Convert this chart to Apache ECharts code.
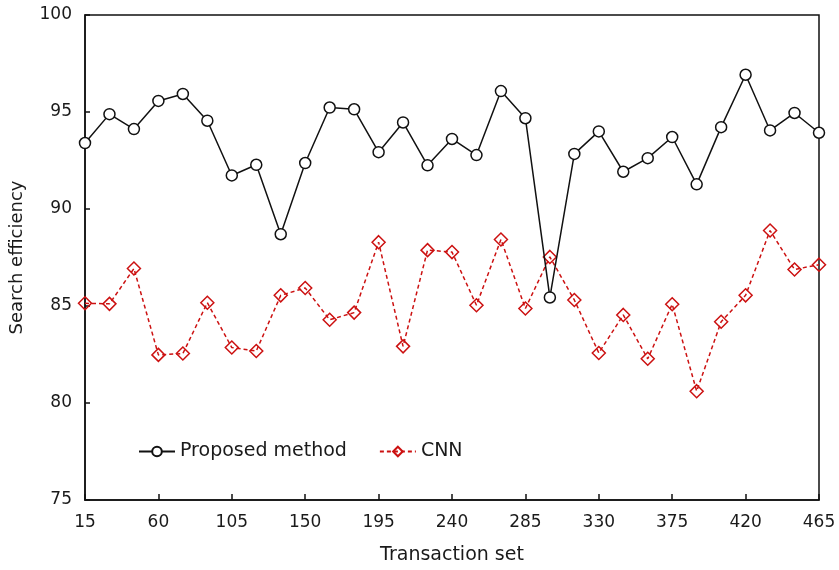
<!DOCTYPE html>
<html>
<head>
<meta charset="utf-8">
<script src="https://cdn.jsdelivr.net/npm/echarts@6/dist/echarts.min.js"></script>
<style>
  html, body { margin: 0; padding: 0; background: #fff; }
  #chart { width: 839px; height: 570px; }
</style>
</head>
<body>
<div id="chart"></div>
<script>
// Transaction sets (x categories)
const transactionSets = ['15', '30', '45', '60', '75', '90', '105', '120', '135', '150', '165',
    '180', '195', '210', '225', '240', '255', '270', '285', '300', '315', '330', '345', '360',
    '375', '390', '405', '420', '435', '450', '465'];

// Search efficiency
const proposedValues = [93.40, 94.89, 94.12, 95.57, 95.93, 94.55, 91.73, 92.28, 88.70, 92.37, 95.23,
    95.14, 92.93, 94.46, 92.25, 93.61, 92.78, 96.08, 94.68, 85.44, 92.84, 94.00, 91.92, 92.62,
    93.71, 91.27, 94.22, 96.92, 94.05, 94.95, 93.93];

const cnnValues = [85.14, 85.11, 86.93, 82.48, 82.55, 85.17, 82.86, 82.68, 85.55, 85.93, 84.29,
    84.66, 88.29, 82.92, 87.88, 87.78, 85.04, 88.43, 84.87, 87.53, 85.31, 82.58, 84.54, 82.28,
    85.09, 80.61, 84.19, 85.55, 88.89, 86.88, 87.13];

const FONT = 'DejaVu Sans';
const TEXT_COLOR = '#1a1a1a';
const RED = '#cc1111';

const chart = echarts.init(document.getElementById('chart'), null, { renderer: 'canvas' });

const option = {
    backgroundColor: '#fff',
    animation: false,
    grid: { left: 85, right: 20, top: 15, bottom: 65, show: true, borderColor: '#111', borderWidth: 1.5 },
    legend: {
        left: 133,
        top: 437,
        itemWidth: 36,
        itemHeight: 12,
        itemGap: 32,
        textStyle: { fontFamily: FONT, fontSize: 19, color: TEXT_COLOR },
        data: ['Proposed method', 'CNN']
    },
    xAxis: {
        type: 'category',
        data: transactionSets,
        boundaryGap: false,
        name: 'Transaction set',
        nameLocation: 'middle',
        nameGap: 46,
        nameTextStyle: { fontFamily: FONT, fontSize: 19, color: TEXT_COLOR },
        axisLine: { lineStyle: { color: '#111', width: 1.5 } },
        axisTick: { inside: true, interval: 2, length: 6, lineStyle: { color: '#111', width: 1.5 } },
        axisLabel: { interval: 2, fontFamily: FONT, fontSize: 17, color: TEXT_COLOR, margin: 14 },
        splitLine: { show: false }
    },
    yAxis: {
        type: 'value',
        min: 75,
        max: 100,
        interval: 5,
        name: 'Search efficiency',
        nameLocation: 'middle',
        nameGap: 59,
        nameTextStyle: { fontFamily: FONT, fontSize: 18, color: TEXT_COLOR },
        axisLine: { show: true, lineStyle: { color: '#111', width: 1.5 } },
        axisTick: { show: true, inside: true, length: 5, lineStyle: { color: '#111', width: 1.5 } },
        axisLabel: { fontFamily: FONT, fontSize: 17, color: TEXT_COLOR, margin: 13 },
        splitLine: { show: false }
    },
    series: [
        {
            name: 'Proposed method',
            type: 'line',
            data: proposedValues,
            symbol: 'circle',
            symbolSize: 11,
            showAllSymbol: true,
            lineStyle: { color: '#111', width: 1.5 },
            itemStyle: { color: '#fff', borderColor: '#111', borderWidth: 1.5 },
            z: 3
        },
        {
            name: 'CNN',
            type: 'line',
            data: cnnValues,
            symbol: 'diamond',
            symbolSize: 13,
            showAllSymbol: true,
            lineStyle: { color: RED, width: 1.5, type: [4, 3] },
            itemStyle: { color: 'rgba(255,255,255,0)', borderColor: RED, borderWidth: 1.5 },
            z: 2
        }
    ]
};

chart.setOption(option);
</script>
</body>
</html>
